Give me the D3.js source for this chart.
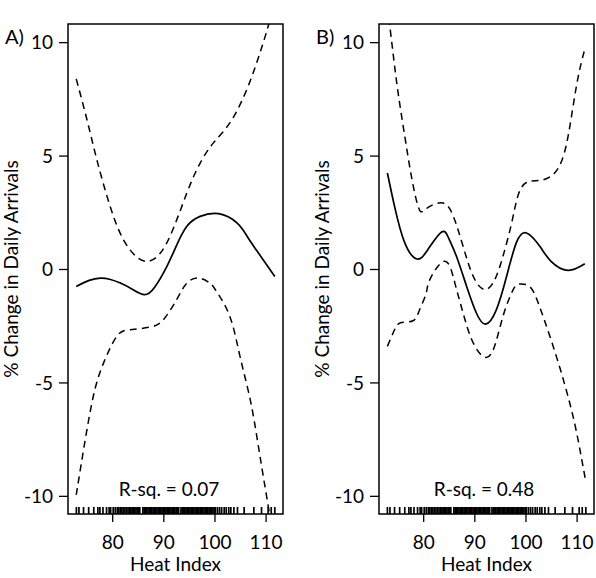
<!DOCTYPE html>
<html><head><meta charset="utf-8">
<script src="https://cdn.jsdelivr.net/npm/d3@7"></script>
<style>
body{margin:0;background:#fff}
svg{display:block}
text{font-family:Lato,"Open Sans",sans-serif;fill:#000}
</style>
</head><body>
<svg id="c" width="596" height="578"></svg>
<script>
// ---- data ----
const xTicks = [80, 90, 100, 110];
const yTicks = [-10, -5, 0, 5, 10];
const xDomain = [71.36, 113.4];
const yDomain = [-10.8, 10.8];
const xLabel = "Heat Index";
const yLabel = "% Change in Daily Arrivals";
const panelLabels = ["A)", "B)"];
const rsqLabels = ["R-sq. = 0.07", "R-sq. = 0.48"];
const rsqPosX = [91.1, 91.9];
const rsqPosY = -9.75;

// heat index observations (rug)
const rugHI = [73.0, 73.5, 74.4, 75.4, 76.4, 77.2, 77.6, 78.2, 78.9, 79.4, 79.7, 80.2, 80.6, 81.0,
  81.3, 81.6, 81.9, 82.2, 82.5, 82.8, 83.1, 83.4, 83.65, 83.9, 84.15, 84.4, 84.65, 84.9, 85.15, 85.4,
  86.0, 86.25, 86.5, 86.75, 87.0, 87.25, 87.5, 87.75, 88.0, 88.25, 88.5, 88.75, 89.0, 89.25,
  89.5, 89.75, 90.0, 90.25, 90.5, 90.75, 91.0, 91.25, 91.5, 91.75, 92.0, 92.25, 92.5, 92.75, 93.0,
  93.45, 93.7, 93.95, 94.2, 94.45, 94.7, 94.95, 95.2, 95.45, 95.7, 95.95, 96.2, 96.45, 96.7,
  96.95, 97.2, 97.45, 97.7, 97.95, 98.2, 98.45, 98.7, 98.95, 99.2, 99.45, 99.7, 99.95, 100.2,
  100.6, 101.0, 101.4, 101.9, 102.3, 102.8, 103.2, 103.8, 104.5, 105.8, 107.7, 109.2,
  110.5, 111.1, 111.8];

// Panel A
const aFitX   = [72.97, 75.5, 77.7, 79.5, 81.6, 84.0, 86.3, 88.3, 90.7, 92.5, 94.6, 97.2, 100.8, 104.4, 106.5, 108.3, 111.8];
const aFitY   = [-0.77, -0.5, -0.4, -0.45, -0.62, -0.9, -1.13, -0.8, 0.12, 1.0, 1.88, 2.32, 2.44, 2.03, 1.4, 0.8, -0.33];
const aUpperX = [72.97, 75.06, 77.0, 79.6, 82.2, 84.8, 86.8, 88.7, 91.3, 94.6, 97.2, 99.8, 103.0, 106.3, 108.9, 110.5, 111.8];
const aUpperY = [8.38, 6.59, 4.82, 2.76, 1.29, 0.53, 0.34, 0.53, 1.44, 3.35, 4.67, 5.56, 6.44, 7.9, 9.53, 10.7, 11.8];
const aLowerX = [72.97, 74.4, 76.3, 78.3, 80.9, 83.5, 87.4, 90.0, 92.6, 94.5, 96.8, 99.1, 100.4, 103.0, 105.0, 107.0, 108.6, 110.2, 111.8];
const aLowerY = [-9.96, -7.97, -5.62, -4.15, -2.97, -2.68, -2.56, -2.24, -1.35, -0.65, -0.4, -0.62, -0.99, -2.09, -3.86, -5.77, -7.83, -10.03, -12.2];

// Panel B
const bFitX   = [73.0, 74.4, 76.4, 78.8, 80.9, 83.6, 85.0, 86.5, 88.5, 90.4, 92.2, 94.3, 96.3, 98.2, 100.2, 102.8, 105.0, 108.3, 111.6];
const bFitY   = [4.23, 2.76, 1.15, 0.44, 0.85, 1.63, 1.35, 0.56, -0.77, -1.94, -2.43, -1.8, -0.33, 1.15, 1.59, 1.0, 0.34, -0.06, 0.23];
const bUpperX = [73.0, 74.1, 75.1, 76.4, 77.7, 79.0, 79.9, 81.3, 83.9, 85.9, 87.8, 89.8, 92.05, 94.0, 95.6, 97.3, 98.6, 100.4, 103.0, 105.7, 107.6, 108.9, 110.2, 111.6];
const bUpperY = [11.6, 9.53, 7.76, 5.85, 4.08, 2.76, 2.54, 2.76, 2.91, 2.32, 1.0, -0.33, -0.91, -0.47, 0.56, 2.03, 3.28, 3.84, 3.91, 4.23, 5.12, 6.59, 8.35, 9.7];
const bLowerX = [73.0, 74.4, 75.7, 78.0, 79.3, 80.6, 81.3, 84.2, 86.2, 87.8, 89.5, 91.7, 93.7, 95.6, 97.6, 98.9, 100.8, 102.5, 105.0, 107.6, 109.6, 110.9, 111.8];
const bLowerY = [-3.41, -2.68, -2.36, -2.28, -1.8, -1.06, -0.47, 0.34, -0.62, -1.94, -3.12, -3.85, -3.56, -2.09, -0.91, -0.66, -0.77, -1.5, -3.12, -5.03, -6.79, -8.27, -9.37];

const panels = [
  {left: 68, fit: [aFitX, aFitY], upper: [aUpperX, aUpperY], lower: [aLowerX, aLowerY]},
  {left: 379, fit: [bFitX, bFitY], upper: [bUpperX, bUpperY], lower: [bLowerX, bLowerY]}
];

// ---- layout ----
const W = 215, plotTop = 24, plotBottom = 514;
const fs = 19;
const svg = d3.select("#c");

panels.forEach((p, i) => {
  const x = d3.scaleLinear().domain(xDomain).range([p.left, p.left + W]);
  const y = d3.scaleLinear().domain(yDomain).range([plotBottom, plotTop]);
  const clipId = "clip" + i;
  svg.append("clipPath").attr("id", clipId).append("rect")
    .attr("x", p.left).attr("y", plotTop).attr("width", W).attr("height", plotBottom - plotTop);

  const g = svg.append("g");

  // axes
  const xa = g.append("g").attr("transform", `translate(0,${plotBottom})`)
    .call(d3.axisBottom(x).tickValues(xTicks).tickSize(8).tickPadding(7).tickFormat(d3.format("d")));
  const ya = g.append("g").attr("transform", `translate(${p.left},0)`)
    .call(d3.axisLeft(y).tickValues(yTicks).tickSize(9).tickPadding(6).tickFormat(d => d < 0 ? "-" + Math.abs(d) : d));
  [xa, ya].forEach(a => {
    a.select(".domain").remove();
    a.selectAll("line").attr("stroke", "#000").attr("stroke-width", 1.3);
    a.selectAll("text").attr("font-size", fs).attr("font-family", "Lato").attr("fill", "#000");
  });
  xa.selectAll("text").attr("dy", null).attr("y", 35);
  ya.selectAll("text").attr("dy", "0.36em");

  // rug
  g.append("g").selectAll("line").data(rugHI).join("line")
    .attr("x1", d => x(d)).attr("x2", d => x(d))
    .attr("y1", plotBottom).attr("y2", plotBottom - 7)
    .attr("stroke", "#000").attr("stroke-width", 1.7);

  // curves
  const line = d3.line().x(d => x(d[0])).y(d => y(d[1])).curve(d3.curveNatural);
  const cg = g.append("g").attr("clip-path", `url(#${clipId})`);
  const pts = arr => arr[0].map((v, k) => [v, arr[1][k]]);
  cg.append("path").attr("d", line(pts(p.fit))).attr("fill", "none")
    .attr("stroke", "#000").attr("stroke-width", 1.7);
  [p.upper, p.lower].forEach(s => {
    cg.append("path").attr("d", line(pts(s))).attr("fill", "none")
      .attr("stroke", "#000").attr("stroke-width", 1.5).attr("stroke-dasharray", "7,5");
  });

  // box
  g.append("rect").attr("x", p.left).attr("y", plotTop).attr("width", W).attr("height", plotBottom - plotTop)
    .attr("fill", "none").attr("stroke", "#000").attr("stroke-width", 1.5);

  // R-sq
  g.append("text").attr("x", x(rsqPosX[i])).attr("y", y(rsqPosY)).attr("dy", "0.3em")
    .attr("text-anchor", "middle").attr("font-size", fs).text(rsqLabels[i]);

  // axis titles
  g.append("text").attr("x", p.left + W / 2).attr("y", 571).attr("text-anchor", "middle")
    .attr("font-size", fs).text(xLabel);
  g.append("text").attr("transform", `translate(${p.left - 50},${(plotTop + plotBottom) / 2}) rotate(-90)`)
    .attr("text-anchor", "middle").attr("font-size", fs).text(yLabel);

  // panel label
  g.append("text").attr("x", p.left - 63).attr("y", 44).attr("font-size", 20).text(panelLabels[i]);
});
</script>
</body></html>
